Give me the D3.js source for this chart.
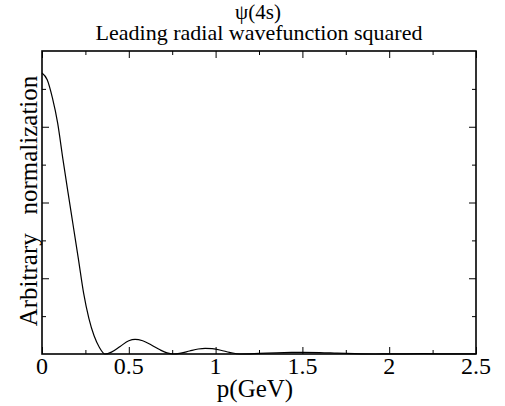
<!DOCTYPE html>
<html>
<head>
    <script src="https://d3js.org/d3.v7.min.js"></script>
    <style>
        body { margin: 0; background: #fff; }
        text { font-family: "Liberation Serif", "Times New Roman", serif; fill: #000; }
    </style>
</head>
<body>
    <svg id="chart" width="505" height="406"></svg>
    <script>
        // momentum p (GeV) and |R(p)|^2
        const pValues = [0, 0.03, 0.06, 0.09, 0.12, 0.15, 0.18, 0.21, 0.24, 0.27, 0.30, 0.33, 0.363,
            0.40, 0.45, 0.50, 0.536, 0.58, 0.63, 0.68, 0.72, 0.755,
            0.80, 0.85, 0.90, 0.94, 0.98, 1.03, 1.08, 1.14,
            1.25, 1.35, 1.45, 1.50, 1.60, 1.70, 1.80, 1.92,
            2.05, 2.20, 2.35, 2.50];
        const psiSquared = [3.71, 3.62, 3.38, 3.05, 2.58, 2.13, 1.69, 1.25, 0.80, 0.47, 0.24, 0.09, 0.0,
            0.025, 0.10, 0.175, 0.194, 0.175, 0.12, 0.055, 0.015, 0.0,
            0.012, 0.04, 0.066, 0.075, 0.07, 0.05, 0.022, 0.0,
            0.007, 0.016, 0.021, 0.022, 0.019, 0.011, 0.004, 0.0,
            0.002, 0.004, 0.002, 0.0005];
        const xTicks = [0, 0.5, 1, 1.5, 2, 2.5];
        const xMinor = [0.25, 0.75, 1.25, 1.75, 2.25];
        const yMajor = [1, 2, 3];
        const yMinor = [0.5, 1.5, 2.5, 3.5];

        const margin = {top: 51, right: 29, bottom: 52, left: 42};
        const width = 505, height = 406;
        const innerW = width - margin.left - margin.right;
        const innerH = height - margin.top - margin.bottom;

        const svg = d3.select("#chart");
        const g = svg.append("g").attr("transform", `translate(${margin.left},${margin.top})`);

        const x = d3.scaleLinear().domain([0, 2.5]).range([0, innerW]);
        const y = d3.scaleLinear().domain([0, 4]).range([innerH, 0]);

        // inward ticks on all four sides
        function tickAxis(axisFn, scale, values, len) {
            return axisFn(scale).tickValues(values).tickSize(-len).tickFormat("");
        }
        const tickStyle = sel => {
            sel.select(".domain").remove();
            sel.selectAll("line").attr("stroke", "#000").attr("stroke-width", 1);
        };
        g.append("g").attr("transform", `translate(0,${innerH})`)
            .call(tickAxis(d3.axisBottom, x, xTicks, 7)).call(tickStyle);
        g.append("g").attr("transform", `translate(0,${innerH})`)
            .call(tickAxis(d3.axisBottom, x, xMinor, 4)).call(tickStyle);
        g.append("g").call(tickAxis(d3.axisTop, x, xTicks, 7)).call(tickStyle);
        g.append("g").call(tickAxis(d3.axisTop, x, xMinor, 4)).call(tickStyle);
        g.append("g").call(tickAxis(d3.axisLeft, y, yMajor, 7)).call(tickStyle);
        g.append("g").call(tickAxis(d3.axisLeft, y, yMinor, 4)).call(tickStyle);
        g.append("g").attr("transform", `translate(${innerW},0)`)
            .call(tickAxis(d3.axisRight, y, yMajor, 7)).call(tickStyle);
        g.append("g").attr("transform", `translate(${innerW},0)`)
            .call(tickAxis(d3.axisRight, y, yMinor, 4)).call(tickStyle);

        // x tick labels
        g.append("g").selectAll("text").data(xTicks).join("text")
            .attr("x", d => x(d))
            .attr("y", innerH + 20)
            .attr("text-anchor", "middle")
            .attr("font-size", 24)
            .text(d => d);

        // curve
        const data = pValues.map((p, i) => ({p, v: psiSquared[i]}));
        const line = d3.line()
            .x(d => x(d.p))
            .y(d => y(d.v))
            .curve(d3.curveMonotoneX);
        g.append("path").datum(data)
            .attr("fill", "none")
            .attr("stroke", "#000")
            .attr("stroke-width", 1.2)
            .attr("d", line);

        // frame
        g.append("rect")
            .attr("width", innerW).attr("height", innerH)
            .attr("fill", "none").attr("stroke", "#000").attr("stroke-width", 1.6);

        // titles
        svg.append("text").attr("x", 258).attr("y", 19)
            .attr("text-anchor", "middle").attr("font-size", 21).text("ψ(4s)");
        svg.append("text").attr("x", 259).attr("y", 40)
            .attr("text-anchor", "middle").attr("font-size", 22).text("Leading radial wavefunction squared");
        svg.append("text").attr("x", 255).attr("y", 397)
            .attr("text-anchor", "middle").attr("font-size", 25).text("p(GeV)");
        svg.append("text")
            .attr("transform", "translate(37,201) rotate(-90)")
            .attr("text-anchor", "middle").attr("font-size", 25)
            .style("white-space", "pre")
            .text("Arbitrary   normalization");
    </script>
</body>
</html>
